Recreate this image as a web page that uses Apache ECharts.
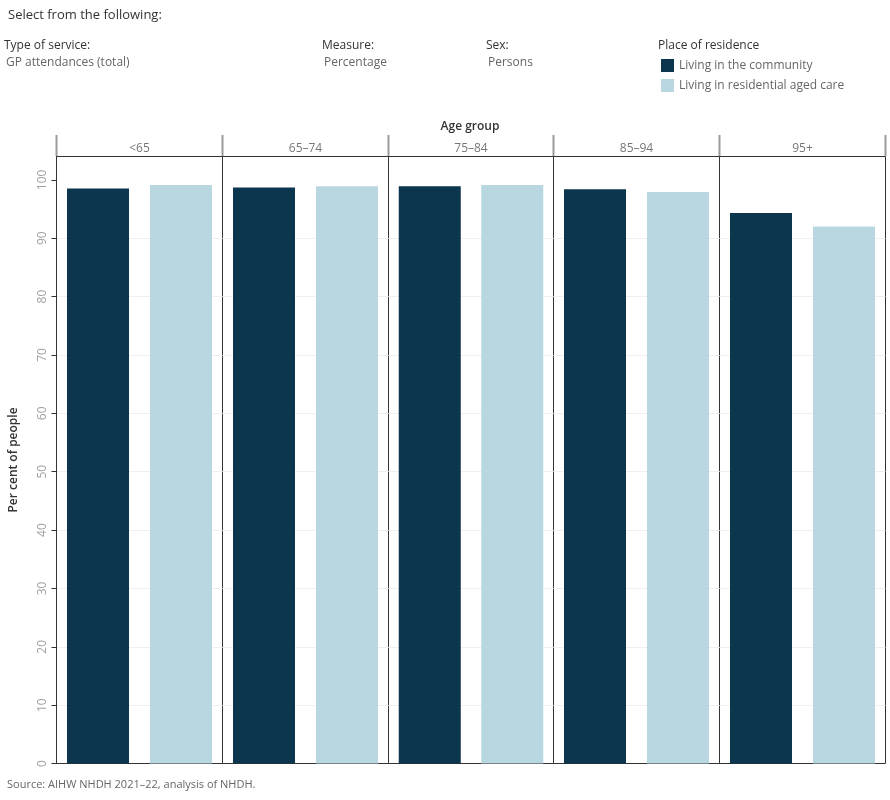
<!DOCTYPE html>
<html>
<head>
<meta charset="utf-8">
<script src="https://cdn.jsdelivr.net/npm/echarts@6/dist/echarts.min.js"></script>
<style>
html,body{margin:0;padding:0;background:#fff;}
#chart{width:890px;height:800px;}
</style>
</head>
<body>
<div id="chart"></div>
<script>
// ---- data ----
const ageGroups = ['<65', '65\u201374', '75\u201384', '85\u201394', '95+'];
const places = ['Living in the community', 'Living in residential aged care'];
const community = [98.5, 98.7, 98.9, 98.4, 94.3];
const residential = [99.1, 98.9, 99.1, 97.9, 92.0];
const yTicks = [0, 10, 20, 30, 40, 50, 60, 70, 80, 90, 100];

// ---- layout ----
const FONT = '"Open Sans", "Noto Sans", sans-serif';
const colors = ['#0b364d', '#b8d7e0'];
const plotLeft = 56, plotRight = 885, plotTop = 156, plotBottom = 763;
const panelW = (plotRight - plotLeft) / ageGroups.length;
const edges = [];
for (let i = 0; i <= ageGroups.length; i++) edges.push(Math.round(plotLeft + i * panelW));

const grids = [], xAxes = [], yAxes = [], series = [];
ageGroups.forEach((g, i) => {
  grids.push({
    left: edges[i] + 0.5, width: edges[i + 1] - edges[i],
    top: plotTop + 0.5, height: plotBottom - plotTop,
    show: true, borderColor: '#333', borderWidth: 1, containLabel: false
  });
  xAxes.push({
    gridIndex: i, type: 'category', data: places, position: 'top',
    axisLabel: {show: false}, axisTick: {show: false},
    axisLine: {show: false},
    name: g, nameLocation: 'middle', nameGap: 2,
    nameTextStyle: {color: '#777', fontSize: 12, fontFamily: FONT}
  });
  yAxes.push({
    gridIndex: i, type: 'value', min: 0, max: 104, interval: 10,
    axisLine: {show: i === 0, lineStyle: {color: '#333'}},
    axisTick: {show: i === 0, length: 5, lineStyle: {color: '#333'}, customValues: yTicks},
    axisLabel: {show: i === 0, rotate: 90, color: '#a0a0a0', fontSize: 12, fontFamily: FONT,
                margin: 8, customValues: yTicks},
    splitLine: {show: true, showMaxLine: false, showMinLine: false, lineStyle: {color: '#efefef', width: 1}},
    name: i === 0 ? 'Per cent of people' : '',
    nameLocation: 'middle', nameRotate: 90, nameGap: 37,
    nameTextStyle: {color: '#333', fontSize: 12, fontWeight: 600, fontFamily: FONT}
  });
  series.push({
    type: 'bar', name: places[0], xAxisIndex: i, yAxisIndex: i,
    data: [community[i], '-'], barWidth: 62, barGap: '-100%',
    itemStyle: {color: colors[0]}, silent: true
  });
  series.push({
    type: 'bar', name: places[1], xAxisIndex: i, yAxisIndex: i,
    data: ['-', residential[i]], barWidth: 62, barGap: '-100%',
    itemStyle: {color: colors[1]}, silent: true
  });
});

// header separator lines
const headerLines = [];
edges.forEach(x => {
  headerLines.push({
    type: 'line', shape: {x1: x + 0.5, y1: 135, x2: x + 0.5, y2: plotTop},
    style: {stroke: '#9a9a9a', lineWidth: 2}
  });
});

function txt(x, y, text, opts) {
  return {type: 'text', x: x, y: y,
    style: Object.assign({text: text, font: '12px ' + FONT, fill: '#333', textVerticalAlign: 'middle'}, opts || {})};
}

const option = {
  animation: false,
  textStyle: {fontFamily: FONT},
  grid: grids, xAxis: xAxes, yAxis: yAxes, series: series,
  legend: {
    data: places, orient: 'vertical', left: 656, top: 54,
    itemWidth: 13, itemHeight: 13, itemGap: 7, icon: 'rect',
    textStyle: {color: '#666', fontSize: 12, fontFamily: FONT},
    selectedMode: false
  },
  graphic: [
    txt(8, 15, 'Select from the following:', {font: '13px ' + FONT, fill: '#333'}),
    txt(4, 46, 'Type of service:', {font: '12px ' + FONT, fill: '#333'}),
    txt(6, 63, 'GP attendances (total)', {font: '12px ' + FONT, fill: '#666'}),
    txt(322, 46, 'Measure:', {font: '12px ' + FONT, fill: '#333'}),
    txt(324, 63, 'Percentage', {font: '12px ' + FONT, fill: '#666'}),
    txt(486, 46, 'Sex:', {font: '12px ' + FONT, fill: '#333'}),
    txt(488, 63, 'Persons', {font: '12px ' + FONT, fill: '#666'}),
    txt(658, 46, 'Place of residence', {font: '12px ' + FONT, fill: '#333'}),
    txt(470, 127, 'Age group', {font: '600 12px ' + FONT, fill: '#333', textAlign: 'center'}),
    txt(7, 785, 'Source: AIHW NHDH 2021\u201322, analysis of NHDH.', {font: '11px ' + FONT, fill: '#666'})
  ].concat(headerLines)
};

const chart = echarts.init(document.getElementById('chart'), null, {renderer: 'canvas'});
chart.setOption(option);
</script>
</body>
</html>
